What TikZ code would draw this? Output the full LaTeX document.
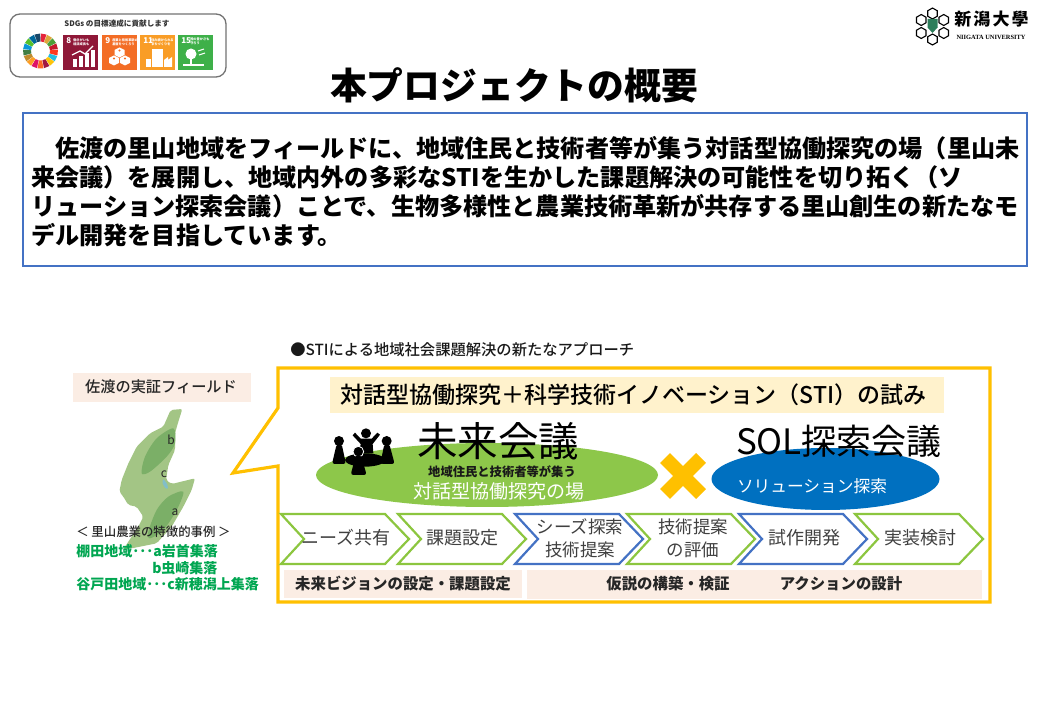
\documentclass[tikz,border=0pt]{standalone}
\usepackage{fontspec}
\usetikzlibrary{calc}
\setmainfont{Noto Sans CJK JP}
\newfontfamily\med{Noto Sans CJK JP Medium}
\newfontfamily\serifen{Liberation Serif}
\newcommand\fpx[1]{\fontsize{\fpeval{#1*0.75}}{\fpeval{#1*0.9}}\selectfont}
\definecolor{bluebox}{HTML}{4472C4}
\definecolor{yel}{HTML}{FFC000}
\definecolor{chgreen}{HTML}{8CC63F}
\definecolor{chblue}{HTML}{4472C4}
\definecolor{peach}{HTML}{FBEDE4}
\definecolor{cream}{HTML}{FFF2CC}
\definecolor{ellgreen}{HTML}{8DC74A}
\definecolor{ellblue}{HTML}{0070C0}
\definecolor{caseg}{HTML}{00A651}
\definecolor{isl}{HTML}{A3C585}
\definecolor{isld}{HTML}{7BAF67}
\tikzset{
  px/.style={line width=#1*0.75pt},
  chev/.style={draw=#1,px=2.2,fill=white,line join=miter},
  chevtext/.style={text=black!75,inner sep=0pt,align=center,font=\fpx{18}},
  boldtext/.style={inner sep=0pt,font=\fpx{15.4}\bfseries,text=black!85},
  sdgbox/.style={draw=black!55,px=1.3,rounded corners=7.5pt,fill=white},
  tiny/.style={inner sep=0pt,text=white,align=left,anchor=north west,font=\fontsize{2.4}{3}\selectfont\bfseries},
  num/.style={inner sep=0pt,text=white,anchor=north west,font=\fpx{8}\bfseries},
  casetext/.style={inner sep=0pt,anchor=west,text=caseg,font=\fpx{14}\bfseries},
}
\newcommand\chevron[3]{% left x, colour, name
  \draw[chev=#2] (#1,514) -- ({#1+104},514) -- ({#1+128},539) -- ({#1+104},564) -- (#1,564) -- ({#1+23},539) -- cycle;
}
\begin{document}
\begin{tikzpicture}[x=0.75pt,y=-0.75pt]
\useasboundingbox (0,0) rectangle (1040,720);
\fill[white] (0,0) rectangle (1040,720);

% SDGs panel
\draw[sdgbox] (10,14) rectangle (226,77);
\node[inner sep=0pt,text=black!80,font=\fpx{7.6}\bfseries] (sdgtitle) at (117,23.5) {SDGs の目標達成に貢献します};
\foreach \i/\c in {0/E5243B,1/DDA63A,2/4C9F38,3/C5192D,4/FF3A21,5/26BDE2,6/FCC30B,7/A21942,8/FD6925,9/DD1367,10/FD9D24,11/BF8B2E,12/3F7E44,13/0A97D9,14/56C02B,15/00689D,16/19486A}{
  \definecolor{wh}{HTML}{\c}
  \pgfmathsetmacro\aa{-90+\i*360/17+1}
  \pgfmathsetmacro\ab{-90+(\i+1)*360/17-1}
  \fill[wh] ($(40.5,51)+(\aa:9.5)$) -- ($(40.5,51)+(\aa:17.5)$) -- ($(40.5,51)+(\ab:17.5)$) -- ($(40.5,51)+(\ab:9.5)$) -- cycle;
}
% goal 8
\fill[fill={rgb,255:red,143;green,24;blue,56}] (63,35) rectangle (98,70);
\node[num] (g8) at (66,37) {8};
\node[tiny] (g8t) at (73,38) {働きがいも\\経済成長も};
\foreach \x/\h in {73/8,79/11,85/14,91/17}{\fill[white] (\x,67) rectangle ({\x+3.5},{67-\h});}
\draw[white,px=1.3] (72,55) -- (80,51) -- (85,54) -- (93,46);
% goal 9
\fill[fill={rgb,255:red,243;green,109;blue,37}] (102,35) rectangle (137,70);
\node[num] (g9) at (105,37) {9};
\node[tiny] (g9t) at (112,38) {産業と技術革新の\\基盤をつくろう};
\foreach \x/\y in {119.5/52,114/60,125/60}{
  \fill[white] (\x,{\y-4.5}) -- ({\x+5},{\y-2}) -- ({\x+5},{\y+3}) -- (\x,{\y+5.5}) -- ({\x-5},{\y+3}) -- ({\x-5},{\y-2}) -- cycle;
  \draw[fill={rgb,255:red,243;green,109;blue,37},draw=none] (\x,{\y-1.5}) circle (1.2);
}
% goal 11
\fill[fill={rgb,255:red,249;green,157;blue,38}] (140,35) rectangle (175,70);
\node[num] (g11) at (143,37) {11};
\node[tiny] (g11t) at (151,38) {住み続けられる\\まちづくりを};
\fill[white] (146,67) rectangle (151,59);
\fill[white] (152,67) rectangle (163,49);
\fill[white] (164,67) -- (164,60) -- (168,57) -- (168,60) -- (172,57) -- (172,67) -- cycle;
% goal 15
\fill[fill={rgb,255:red,62;green,176;blue,73}] (178,35) rectangle (213,70);
\node[num] (g15) at (181,37) {15};
\node[tiny] (g15t) at (190,38) {陸の豊かさも\\守ろう};
\fill[white] (191,54) circle (5.5);
\fill[white] (190,54) rectangle (192,64);
\fill[white] (183,64) rectangle (204,66);
\draw[white,px=1] (198,51) -- (204,49) (199,55) -- (205,53);

% Niigata logo
\foreach \a in {90,30,-30,-90,-150,150}{
  \draw[black,px=1.1] ($(932.5,26.5)+(\a:13)+(30:5.5)$) -- ($(932.5,26.5)+(\a:13)+(90:5.5)$) -- ($(932.5,26.5)+(\a:13)+(150:5.5)$) -- ($(932.5,26.5)+(\a:13)+(210:5.5)$) -- ($(932.5,26.5)+(\a:13)+(270:5.5)$) -- ($(932.5,26.5)+(\a:13)+(330:5.5)$) -- cycle;
}
\fill[fill={rgb,255:red,45;green,125;blue,90}] (927.5,19) rectangle (937.5,28) (928,28) -- (937,28) -- (932.5,33) -- cycle;
\node[inner sep=0pt,text=black,font=\fpx{17}\bfseries\addfontfeature{LetterSpace=12}] (nu) at (991.5,19) {新潟大學};
\node[inner sep=0pt,text=black,font=\fpx{6.4}\serifen\bfseries] (nue) at (991,37) {NIIGATA UNIVERSITY};

% Title
\node[inner sep=0pt,font=\fpx{36.8}\bfseries] (title) at (514,85) {本プロジェクトの概要};

% Summary box
\draw[draw=bluebox,px=2.6,fill=white] (23,113) rectangle (1027,266);
\node[inner sep=0pt,anchor=west,align=left,font=\fontsize{18.1}{21.6}\selectfont\bfseries] (summary) at (31,191.5) {　佐渡の里山地域をフィールドに、地域住民と技術者等が集う対話型協働探究の場（里山未\\来会議）を展開し、地域内外の多彩なSTIを生かした課題解決の可能性を切り拓く（ソ\\リューション探索会議）ことで、生物多様性と農業技術革新が共存する里山創生の新たなモ\\デル開発を目指しています。};

% Left: field
\fill[peach] (73,373) rectangle (251,402);
\node[inner sep=0pt,font=\fpx{15.2}\med,text=black!85] (field) at (161,387) {佐渡の実証フィールド};
\begin{scope}[shift={(60,340)},x=0.25pt,y=-0.25pt]
  \fill[isl,rounded corners=1.5pt] (332,210) -- (367,207) -- (355,245) -- (345,280) -- (345,330) -- (325,375) -- (318,420) -- (335,432) -- (405,415) -- (395,450) -- (370,500) -- (335,560) -- (290,610) -- (215,625) -- (190,628) -- (215,590) -- (235,560) -- (250,530) -- (230,500) -- (205,495) -- (190,470) -- (178,455) -- (185,420) -- (205,370) -- (230,320) -- (270,280) -- (310,260) -- cycle;
  \fill[isld] plot[smooth cycle] coordinates {(340,265) (345,310) (320,350) (270,395) (245,400) (255,350) (290,295)};
  \fill[isld] plot[smooth cycle] coordinates {(370,455) (350,510) (310,570) (270,595) (265,575) (290,510) (325,470)};
  \fill[fill={rgb,255:red,130;green,190;blue,200}] plot[smooth cycle] coordinates {(310,418) (320,430) (324,445) (316,444) (308,430)};
\end{scope}
\node[inner sep=0pt,font=\fpx{12},text=black!85] (lb) at (171,440) {b};
\node[inner sep=0pt,font=\fpx{12},text=black!85] (lc) at (164,474) {c};
\node[inner sep=0pt,font=\fpx{12},text=black!85] (la) at (175,512) {a};
\node[inner sep=0pt,anchor=west,font=\fpx{12.4}\med,text=black!85] (casehead) at (76,532) {＜ 里山農業の特徴的事例 ＞};
\node[casetext] (c1) at (76,551) {棚田地域･･･a岩首集落};
\node[casetext] (c2) at (152,568) {b虫崎集落};
\node[casetext] (c3) at (76,584) {谷戸田地域･･･c新穂潟上集落};

% Header
\node[inner sep=0pt,anchor=west,font=\fpx{15.3}\med,text=black!90] (head) at (290,350) {●STIによる地域社会課題解決の新たなアプローチ};

% Speech bubble
\draw[draw=yel,px=3.2,fill=white,line join=miter] (278,368) -- (990,368) -- (990,602) -- (278,602) -- (278,466) -- (233,473) -- (278,408) -- cycle;

% Cream banner
\fill[cream] (330,377) rectangle (944,413);
\node[inner sep=0pt,anchor=west,font=\fpx{23}\med,text=black] (banner) at (340,395) {対話型協働探究＋科学技術イノベーション（STI）の試み};

% Ellipses
\fill[ellgreen] (487,475) ellipse [x radius=171,y radius=32];
\fill[ellblue] (825.5,479) ellipse [x radius=114,y radius=31];

% People icon
\begin{scope}[shift={(270,340)},x=0.25pt,y=-0.25pt]
  \fill[black] (207,303) circle (15);
  \fill[black,rounded corners=2pt] (200,312) -- (215,312) -- (228,372) -- (186,372) -- cycle;
  \fill[black] (350,303) circle (15);
  \fill[black,rounded corners=2pt] (343,312) -- (358,312) -- (374,372) -- (331,372) -- cycle;
  \fill[black] (288,280) circle (15);
  \fill[black] (272,296) -- (305,296) -- (322,278) -- (330,284) -- (308,312) -- (310,340) -- (268,340) -- (272,312) -- (248,286) -- (255,278) -- cycle;
  \fill[black] (285,360) ellipse [x radius=60,y radius=20];
  \fill[black,draw=white,px=0.8] (265,335) circle (16);
  \fill[black,rounded corners=2pt] (257,346) -- (273,346) -- (290,405) -- (242,405) -- cycle;
\end{scope}

% Large headings
\node[inner sep=0pt,font=\fpx{40.5},text=black] (mirai) at (498,441) {未来会議};
\node[inner sep=0pt,font=\fpx{35},text=black] (sol) at (839,441) {SOL探索会議};
\node[inner sep=0pt,font=\fpx{12.3}\bfseries,text=black!90] (who) at (502,472) {地域住民と技術者等が集う};
\node[inner sep=0pt,font=\fpx{19},text=white] (place) at (499,491) {対話型協働探究の場};
\node[inner sep=0pt,font=\fpx{16.7},text=white] (solu) at (812,486) {ソリューション探索};

% Cross
\draw[yel,px=14] (665,458) -- (701,494);
\draw[yel,px=14] (701,458) -- (665,494);

% Chevrons
\chevron{281}{chgreen}{c1}
\chevron{398}{chgreen}{c2}
\chevron{515}{chblue}{c3}
\chevron{627}{chgreen}{c4}
\chevron{739}{chblue}{c5}
\chevron{855}{chgreen}{c6}
\node[chevtext] (s1) at (346,538) {ニーズ共有};
\node[chevtext] (s2) at (462,538) {課題設定};
\node[chevtext,font=\fontsize{13.1}{17.2}\selectfont] (s3) at (580,538.5) {シーズ探索\\技術提案};
\node[chevtext,font=\fontsize{13.1}{17.2}\selectfont] (s4) at (693,538.5) {技術提案\\の評価};
\node[chevtext] (s5) at (804,538) {試作開発};
\node[chevtext] (s6) at (920,538) {実装検討};

% Bottom bands
\fill[peach] (284,570) rectangle (522,598);
\fill[peach] (527,570) rectangle (982,599);
\node[boldtext] (b1) at (403,584) {未来ビジョンの設定・課題設定};
\node[boldtext] (b2) at (668,584) {仮説の構築・検証};
\node[boldtext] (b3) at (841,584) {アクションの設計};
\end{tikzpicture}
\end{document}
